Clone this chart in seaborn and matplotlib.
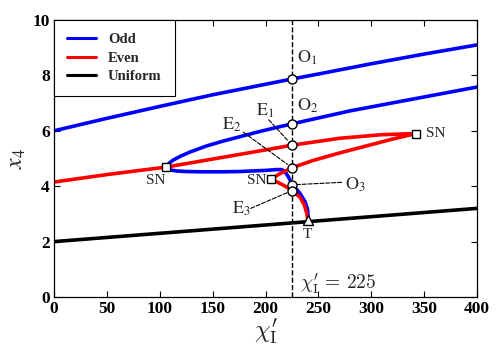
import numpy as np
import pandas as pd
import matplotlib
matplotlib.use("Agg")
import matplotlib.pyplot as plt
import seaborn as sns

# -----------------------------------
# Data
# -----------------------------------
odd_top_x = [0, 50, 100, 150, 200, 225, 250, 300, 350, 400]
odd_top_y = [6.0, 6.45, 6.88, 7.3, 7.68, 7.87, 8.05, 8.42, 8.77, 9.1]

odd_fold_x = [400, 340, 280, 225, 207, 192, 176, 160, 144, 129, 120, 113, 108.5, 106,
              108, 111, 116, 125, 140, 160, 175, 200, 210, 215, 218, 221.6, 225.4,
              229, 232.6, 237.4, 239.9, 240.3]
odd_fold_y = [7.58, 7.15, 6.72, 6.25, 6.09, 5.95, 5.79, 5.63, 5.45, 5.24, 5.09, 4.95, 4.82, 4.69,
              4.62, 4.58, 4.55, 4.53, 4.52, 4.52, 4.53, 4.57, 4.6, 4.6, 4.55, 4.34, 4.05,
              3.9, 3.74, 3.44, 3.14, 2.8]

even_x = [0, 50, 106, 150, 200, 225, 270, 310, 342, 320, 300, 270, 245, 225.3, 214, 207.5, 205,
          206.5, 210.5, 216.8, 225.3, 232.6, 236.7, 239, 240]
even_y = [4.15, 4.42, 4.69, 4.98, 5.31, 5.48, 5.73, 5.86, 5.9, 5.7, 5.5, 5.2, 4.93, 4.67, 4.46, 4.31, 4.26,
          4.22, 4.16, 4.04, 3.84, 3.6, 3.32, 3.02, 2.78]

uniform_x = [0, 400]
uniform_y = [2.0, 3.2]

chi_cut = 225
pt_names = ["O1", "O2", "E1", "E2", "O3", "E3"]
pt_y = [7.87, 6.25, 5.48, 4.67, 4.05, 3.84]

sn_x = [106, 205, 342]
sn_y = [4.69, 4.26, 5.9]
t_x, t_y = 240, 2.78

# -----------------------------------
# Style
# -----------------------------------
sns.set_theme(style="ticks")
plt.rcParams["font.family"] = ["Liberation Serif", "DejaVu Serif"]
plt.rcParams["mathtext.fontset"] = "stix"
plt.rcParams["xtick.direction"] = "in"
plt.rcParams["ytick.direction"] = "in"
plt.rcParams["xtick.top"] = True
plt.rcParams["ytick.right"] = True

fig = plt.figure(figsize=(4.97, 3.52), dpi=100)
ax = fig.add_axes([0.1087, 0.1562, 0.8511, 0.787])

def branch(x, y):
    return pd.DataFrame({"x": x, "y": y})

lw = 2.6
sns.lineplot(data=branch(odd_top_x, odd_top_y), x="x", y="y", sort=False, estimator=None,
             color="blue", lw=lw, ax=ax, label="Odd")
sns.lineplot(data=branch(odd_fold_x, odd_fold_y), x="x", y="y", sort=False, estimator=None,
             color="blue", lw=lw, ax=ax)
sns.lineplot(data=branch(even_x, even_y), x="x", y="y", sort=False, estimator=None,
             color="red", lw=lw, ax=ax, label="Even")
sns.lineplot(data=branch(uniform_x, uniform_y), x="x", y="y", sort=False, estimator=None,
             color="black", lw=lw, ax=ax, label="Uniform")

ax.axvline(chi_cut, color="black", ls="--", lw=1.0, zorder=1)

# markers
ax.plot([chi_cut] * len(pt_y), pt_y, "o", ms=6.5, mfc="white", mec="black", mew=1.0, zorder=5)
ax.plot(sn_x, sn_y, "s", ms=5.5, mfc="white", mec="black", mew=1.0, zorder=5)
ax.plot([t_x], [t_y], "^", ms=6.5, mfc="white", mec="black", mew=1.0, zorder=5)

# labels
fs = 13
ax.text(229.5, 8.63, r"$\mathrm{O}_1$", fontsize=fs, ha="left", va="center")
ax.text(229.5, 6.9, r"$\mathrm{O}_2$", fontsize=fs, ha="left", va="center")
ax.text(200, 6.72, r"$\mathrm{E}_1$", fontsize=fs, ha="center", va="center")
ax.text(168, 6.2, r"$\mathrm{E}_2$", fontsize=fs, ha="center", va="center")
ax.text(177, 3.18, r"$\mathrm{E}_3$", fontsize=fs, ha="center", va="center")
ax.text(275, 4.04, r"$\mathrm{O}_3$", fontsize=fs, ha="left", va="center")

dash = dict(arrowstyle="-", ls="--", lw=0.8, color="black")
ax.annotate("", xy=(chi_cut, 5.48), xytext=(203, 6.4), arrowprops=dict(dash, shrinkB=4, shrinkA=0))
ax.annotate("", xy=(chi_cut, 4.67), xytext=(179, 5.95), arrowprops=dict(dash, shrinkB=4, shrinkA=0))
ax.annotate("", xy=(chi_cut, 3.84), xytext=(186, 3.2), arrowprops=dict(dash, shrinkB=4, shrinkA=0))
ax.annotate("", xy=(chi_cut, 4.05), xytext=(272, 4.14), arrowprops=dict(dash, shrinkB=4, shrinkA=0))

ax.text(96.5, 4.22, "SN", fontsize=11, ha="center", va="center")
ax.text(201, 4.19, "SN", fontsize=11, ha="right", va="center")
ax.text(352, 5.9, "SN", fontsize=11, ha="left", va="center")
ax.text(240, 2.25, "T", fontsize=11, ha="center", va="center")
ax.text(232.5, 0.47, r"$\chi^{\prime}_{\mathrm{I}}\,=\,\mathbf{225}$", fontsize=14,
        ha="left", va="center", math_fontfamily="cm")

# axes
ax.set_xlim(0, 400)
ax.set_ylim(0, 10)
ax.set_xticks(np.arange(0, 401, 50))
ax.set_yticks(np.arange(0, 11, 2))
ax.tick_params(length=4, width=0.8, labelsize=12.5, colors="black", pad=3)
for lab in ax.get_xticklabels() + ax.get_yticklabels():
    lab.set_fontweight("bold")
for sp in ax.spines.values():
    sp.set_color("black")
    sp.set_linewidth(0.9)
ax.set_xlabel(r"$\chi^{\prime}_{\mathrm{I}}$", fontsize=18, labelpad=0, math_fontfamily="cm")
ax.set_ylabel(r"$x_4$", fontsize=17, labelpad=3)

leg = ax.legend(loc="upper left", borderaxespad=0, fancybox=False, framealpha=1,
                edgecolor="black", prop={"weight": "bold", "size": 10.5},
                handlelength=2.0, labelspacing=0.35, borderpad=0.9)
leg.get_frame().set_linewidth(0.8)
for h in leg.get_lines():
    h.set_linewidth(2.2)

fig.savefig("out.png", dpi=100)
